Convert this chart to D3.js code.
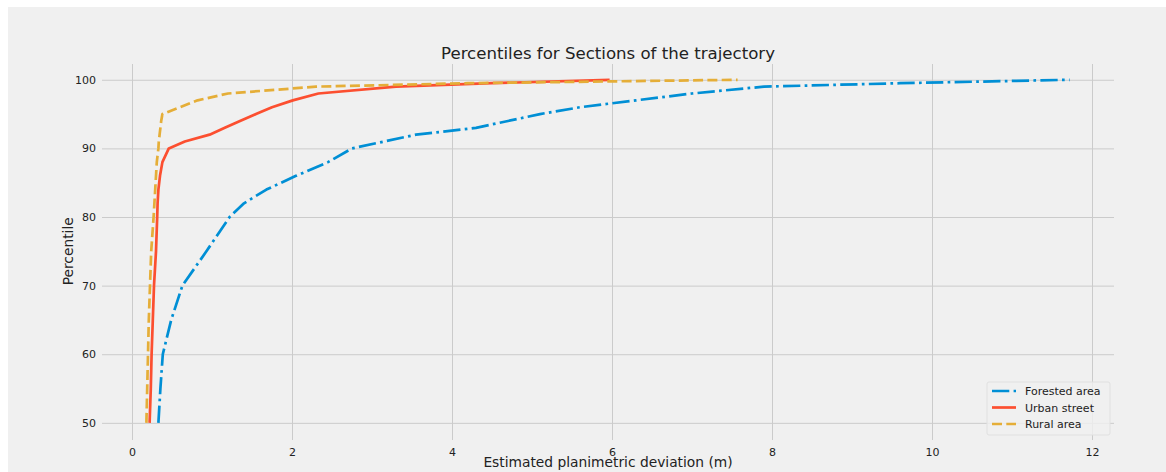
<!DOCTYPE html>
<html>
<head>
<meta charset="utf-8">
<script src="https://cdn.jsdelivr.net/npm/d3@7"></script>
<style>
  body { margin: 0; background: #fff; }
  svg { display: block; font-family: "DejaVu Sans", sans-serif; }
</style>
</head>
<body>
<svg></svg>
<script>
// percentile levels shared by all series
const percentiles = [50, 55, 60, 65, 70, 75, 80, 82, 84, 86, 88, 90, 91, 92, 93, 94, 95, 96, 97, 98, 99, 99.5, 100]

// estimated planimetric deviation (m) at each percentile
const forested = [0.33, 0.355, 0.385, 0.49, 0.63, 0.93, 1.22, 1.40, 1.68, 2.05, 2.45, 2.75, 3.15, 3.55, 4.3, 4.7, 5.1, 5.6, 6.3, 7.0, 7.9, 9.6, 11.72]
const urban = [0.22, 0.235, 0.245, 0.26, 0.275, 0.30, 0.315, 0.32, 0.33, 0.35, 0.38, 0.46, 0.66, 0.97, 1.16, 1.35, 1.55, 1.75, 2.01, 2.33, 3.3, 4.5, 5.97]
const rural = [0.18, 0.19, 0.20, 0.21, 0.225, 0.24, 0.27, 0.28, 0.29, 0.30, 0.31, 0.33, 0.335, 0.345, 0.355, 0.365, 0.38, 0.6, 0.82, 1.2, 2.3, 4.2, 7.57]

const seriesNames = ['Forested area', 'Urban street', 'Rural area']
const xTicks = [0, 2, 4, 6, 8, 10, 12]
const yTicks = [50, 60, 70, 80, 90, 100]

const width = 1166
const height = 472

const svg = d3.select('svg').attr('width', width).attr('height', height)

svg.append('rect')
  .attr('x', 8).attr('y', 7)
  .attr('width', width - 8).attr('height', height - 7)
  .attr('fill', '#f0f0f0')

const margin = {top: 64, bottom: 32, left: 102, right: 52}
const innerWidth = width - margin.left - margin.right
const innerHeight = height - margin.top - margin.bottom

const xScale = d3.scaleLinear().domain([-0.375, 12.275]).range([0, innerWidth])
const yScale = d3.scaleLinear().domain([47.5, 102.3]).range([innerHeight, 0])

const g = svg.append('g').attr('transform', `translate(${margin.left},${margin.top})`)

// grid + labels via axes
const xAxis = d3.axisBottom(xScale).tickValues(xTicks).tickSize(-innerHeight).tickPadding(8)
const yAxis = d3.axisLeft(yScale).tickValues(yTicks).tickSize(-innerWidth).tickPadding(6)

const xAxisG = g.append('g').attr('transform', `translate(0,${innerHeight})`).call(xAxis)
const yAxisG = g.append('g').call(yAxis)

;[xAxisG, yAxisG].forEach(a => {
  a.select('.domain').remove()
  a.selectAll('line').attr('stroke', '#cbcbcb').attr('stroke-width', 1)
  a.selectAll('text').attr('fill', '#222').attr('font-size', 11).attr('font-family', '"DejaVu Sans", sans-serif')
})

const colors = ['#008fd5', '#fc4f30', '#e5ae38']
const dashes = ['17.3,4.3,2.7,4.3', null, '10,4.3']
const lw = 2.7

const clip = svg.append('clipPath').attr('id', 'clip')
  .append('rect').attr('width', innerWidth).attr('height', innerHeight)

const line = d3.line()
  .x(d => xScale(d[0]))
  .y(d => yScale(d[1]))

const allSeries = [forested, urban, rural]

g.append('g').attr('clip-path', 'url(#clip)')
  .selectAll('path')
  .data(allSeries)
  .enter().append('path')
    .attr('d', s => line(s.map((v, i) => [v, percentiles[i]])))
    .attr('fill', 'none')
    .attr('stroke', (d, i) => colors[i])
    .attr('stroke-width', lw)
    .attr('stroke-dasharray', (d, i) => dashes[i])
    .attr('stroke-linejoin', 'round')

// title and axis labels
svg.append('text')
  .attr('x', margin.left + innerWidth / 2).attr('y', 59)
  .attr('text-anchor', 'middle').attr('font-size', 16.6).attr('fill', '#222')
  .text('Percentiles for Sections of the trajectory')

svg.append('text')
  .attr('x', margin.left + innerWidth / 2).attr('y', 467)
  .attr('text-anchor', 'middle').attr('font-size', 13.8).attr('fill', '#222')
  .text('Estimated planimetric deviation (m)')

svg.append('text')
  .attr('transform', `translate(73,${margin.top + yScale(75)}) rotate(-90)`)
  .attr('text-anchor', 'middle').attr('font-size', 13.8).attr('fill', '#222')
  .text('Percentile')

// legend
const legend = svg.append('g').attr('transform', 'translate(987,382)')
legend.append('rect')
  .attr('width', 123).attr('height', 53).attr('rx', 2)
  .attr('fill', '#f0f0f0').attr('fill-opacity', 0.8)
  .attr('stroke', '#e0e0e0')

seriesNames.forEach((name, i) => {
  const row = legend.append('g').attr('transform', `translate(0,${9 + i * 16.5})`)
  row.append('line')
    .attr('x1', 5).attr('x2', 29).attr('y1', 0).attr('y2', 0)
    .attr('stroke', colors[i]).attr('stroke-width', lw)
    .attr('stroke-dasharray', dashes[i])
  row.append('text')
    .attr('x', 38).attr('y', 4)
    .attr('font-size', 11).attr('fill', '#222')
    .text(name)
})
</script>
</body>
</html>
